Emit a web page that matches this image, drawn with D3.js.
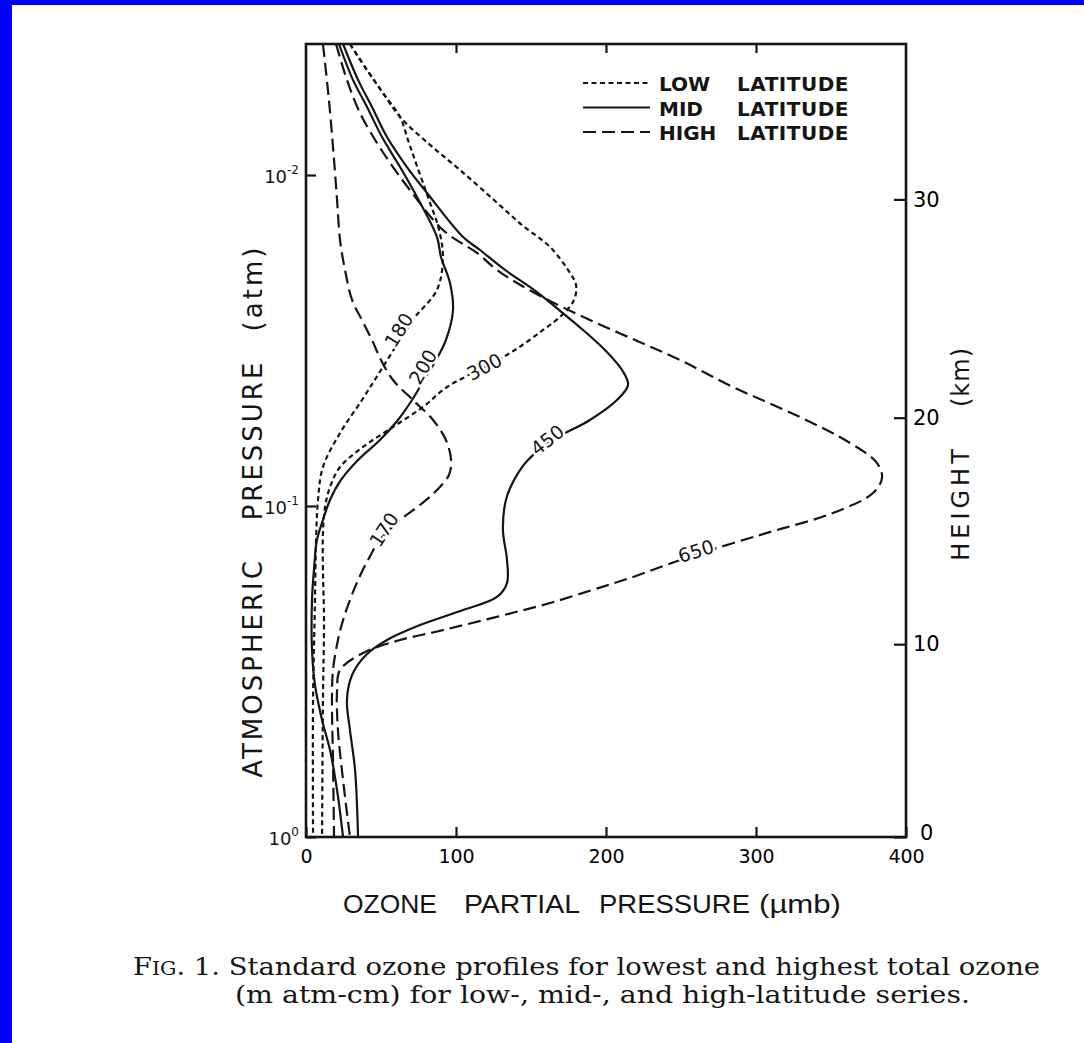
<!DOCTYPE html>
<html>
<head>
<meta charset="utf-8">
<script src="https://cdn.jsdelivr.net/npm/d3@7/dist/d3.min.js"></script>
<style>
  body { margin: 0; overflow: hidden; }
  svg { display: block; }
</style>
</head>
<body>
<svg id="chart" width="1084" height="1043" font-family="DejaVu Sans, sans-serif" fill="#151515"></svg>
<script>
// ozone partial pressure (umb) at pressure levels (atm)
const low180P = [0.00402, 0.00482, 0.00565, 0.00668, 0.00784, 0.0092, 0.01165, 0.01466, 0.01781, 0.02225, 0.02685, 0.03043, 0.03883, 0.04784, 0.06018, 0.07623, 0.0959, 0.1267, 0.1923, 0.3855, 1.0];
const low180O = [29.3, 40.7, 51.3, 62.7, 68.0, 73.3, 81.3, 88.7, 91.3, 87.3, 72.7, 64.7, 50.0, 37.3, 22.7, 11.3, 8.0, 6.7, 6.0, 4.7, 4.7];

const low300P = [0.00402, 0.00482, 0.00565, 0.00668, 0.00811, 0.00966, 0.0119, 0.01416, 0.0165, 0.01936, 0.02149, 0.02385, 0.02649, 0.02939, 0.03378, 0.03803, 0.04371, 0.05022, 0.05771, 0.06633, 0.07623, 0.08762, 0.1007, 0.1206, 0.1561, 0.2211, 0.3855, 1.0];
const low300O = [29.3, 40.7, 51.3, 62.7, 82.7, 102.7, 125.3, 144.0, 162.7, 174.7, 180.0, 178.7, 170.7, 158.0, 139.3, 119.3, 94.0, 78.0, 58.0, 38.0, 22.7, 16.0, 12.7, 11.3, 11.3, 12.0, 11.3, 10.7];

const mid200P = [0.00402, 0.00516, 0.00623, 0.00768, 0.00946, 0.01165, 0.01539, 0.01769, 0.0212, 0.02557, 0.03151, 0.03622, 0.04162, 0.04784, 0.05497, 0.06319, 0.07262, 0.08344, 0.0959, 0.1102, 0.1267, 0.1561, 0.1923, 0.2723, 0.3473, 0.4431, 0.5461, 0.7211, 1.0];
const mid200O = [22.0, 31.3, 40.7, 50.7, 62.7, 74.0, 87.3, 90.0, 96.0, 98.0, 93.3, 86.7, 78.7, 70.7, 61.3, 49.3, 34.7, 23.3, 16.0, 11.3, 7.3, 5.3, 4.0, 4.0, 6.0, 10.7, 16.0, 20.7, 24.7];

const mid450P = [0.00402, 0.00516, 0.00623, 0.00768, 0.00946, 0.01133, 0.01539, 0.01685, 0.01936, 0.02225, 0.02557, 0.02939, 0.03378, 0.03883, 0.0431, 0.04784, 0.05497, 0.06319, 0.07262, 0.08344, 0.0959, 0.1181, 0.1456, 0.1709, 0.1883, 0.2062, 0.2289, 0.254, 0.2819, 0.324, 0.3855, 0.475, 0.6274, 1.0];
const mid450O = [24.7, 34.7, 44.0, 54.0, 67.3, 80.7, 104.7, 116.0, 132.7, 152.0, 168.7, 184.7, 199.3, 210.7, 214.7, 207.3, 189.3, 164.7, 148.0, 138.7, 133.3, 131.3, 134.0, 134.0, 127.3, 104.7, 76.0, 54.0, 40.0, 30.7, 27.3, 29.3, 32.7, 34.7];

const high170P = [0.00402, 0.00594, 0.00901, 0.0119, 0.01572, 0.01936, 0.02385, 0.02742, 0.03151, 0.03622, 0.04162, 0.04784, 0.05497, 0.06319, 0.07262, 0.08058, 0.08947, 0.09931, 0.1102, 0.1267, 0.1456, 0.1674, 0.1923, 0.2211, 0.254, 0.3129, 0.3855, 0.5853, 1.0];
const high170O = [11.3, 15.3, 18.7, 20.7, 22.7, 26.0, 30.7, 37.3, 44.0, 50.0, 58.0, 71.3, 84.7, 93.3, 96.7, 95.3, 87.3, 76.0, 62.7, 49.3, 41.3, 34.7, 29.3, 24.7, 21.3, 18.0, 17.3, 18.0, 18.7];

const high650P = [0.00402, 0.00516, 0.0065, 0.008, 0.00946, 0.0111, 0.01466, 0.0172, 0.01936, 0.0212, 0.02385, 0.02742, 0.03151, 0.03622, 0.04371, 0.05385, 0.06451, 0.07418, 0.08228, 0.09136, 0.105, 0.1206, 0.1406, 0.165, 0.1794, 0.1964, 0.2105, 0.2257, 0.2402, 0.254, 0.278, 0.3129, 0.3597, 0.475, 0.6727, 1.0];
const high650O = [20.0, 27.3, 36.0, 47.3, 58.0, 69.3, 91.3, 114.0, 127.3, 140.7, 161.3, 189.3, 219.3, 249.3, 284.7, 329.3, 362.7, 380.7, 384.0, 378.0, 351.3, 307.3, 259.3, 216.0, 190.7, 162.7, 137.3, 110.7, 86.0, 62.7, 38.0, 22.7, 20.7, 21.3, 24.7, 29.3];

const ozoneTicks = [0, 100, 200, 300, 400];
const pressureTicks = [1, 0.1, 0.01];
const pressureExps = ["0", "-1", "-2"];
const heightTicks = [0, 10, 20, 30];
const heightPressures = [1, 0.2615, 0.0541, 0.01185];
const legendNames = ["LOW", "MID", "HIGH"];

const ink = "#151515";
const svg = d3.select("#chart");
svg.append("rect").attr("width", 1084).attr("height", 1043).attr("fill", "#0000ff");
svg.append("rect").attr("x", 12).attr("y", 5).attr("width", 1072).attr("height", 1038).attr("fill", "#fff");

const x = d3.scaleLinear().domain([0, 400]).range([306, 906]);
const y = d3.scaleLog().domain([1, 0.00402]).range([837, 44]);

const dashes = {low: "5,3.5", mid: null, high: "13,6"};

const series = [
  {band: "low", p: low180P, o: low180O},
  {band: "low", p: low300P, o: low300O},
  {band: "mid", p: mid200P, o: mid200O},
  {band: "mid", p: mid450P, o: mid450O},
  {band: "high", p: high170P, o: high170O},
  {band: "high", p: high650P, o: high650O}
];

const line = d3.line()
  .x(d => x(d[1]))
  .y(d => y(d[0]))
  .curve(d3.curveCatmullRom.alpha(0.5));

svg.append("g").selectAll("path")
  .data(series)
  .enter()
  .append("path")
  .attr("d", s => line(s.p.map((p, i) => [p, s.o[i]])))
  .attr("fill", "none")
  .attr("stroke", ink)
  .attr("stroke-width", 2.2)
  .attr("stroke-dasharray", s => dashes[s.band]);

// frame
svg.append("rect")
  .attr("x", x(0)).attr("y", y(0.00402))
  .attr("width", x(400) - x(0)).attr("height", y(1) - y(0.00402))
  .attr("fill", "none").attr("stroke", ink).attr("stroke-width", 2.6);

// bottom axis
const bottomAxis = svg.append("g")
  .attr("transform", `translate(0,${y(1)})`)
  .call(d3.axisBottom(x).tickValues(ozoneTicks).tickSize(-10).tickPadding(13).tickFormat(d3.format("d")));
bottomAxis.select(".domain").remove();
bottomAxis.selectAll("text").attr("font-size", 19).attr("font-family", "DejaVu Sans");

// top axis ticks
const topAxis = svg.append("g")
  .attr("transform", `translate(0,${y(0.00402)})`)
  .call(d3.axisTop(x).tickValues([100, 200, 300]).tickSize(-9).tickFormat(""));
topAxis.select(".domain").remove();

// left axis
const leftAxis = svg.append("g")
  .attr("transform", `translate(${x(0)},0)`)
  .call(d3.axisLeft(y).tickValues(pressureTicks).tickSize(-10).tickFormat(""));
leftAxis.select(".domain").remove();
leftAxis.selectAll(".tick").each(function(d, i) {
  const t = d3.select(this).append("text")
    .attr("x", -7).attr("y", 7)
    .attr("text-anchor", "end")
    .attr("font-size", 18)
    .attr("font-family", "DejaVu Sans")
    .attr("fill", ink);
  t.append("tspan").text("10");
  t.append("tspan").attr("dy", -9).attr("font-size", 12).text(pressureExps[i]);
});

// right axis (height)
const rightAxis = svg.append("g")
  .attr("transform", `translate(${x(400)},0)`)
  .call(d3.axisRight(y).tickValues(heightPressures).tickSize(-12).tickPadding(7)
    .tickFormat((d, i) => heightTicks[i]));
rightAxis.select(".domain").remove();
rightAxis.selectAll("text").attr("font-size", 21).attr("font-family", "DejaVu Sans");
rightAxis.selectAll(".tick text").filter((d, i) => i === 0).attr("x", 14).attr("y", -4);
svg.selectAll(".tick line").attr("stroke", ink).attr("stroke-width", 2.2);

// curve labels
const curveLabels = [
  {text: "180", o: 62, p: 0.0294, angle: -58},
  {text: "200", o: 78, p: 0.038, angle: -60},
  {text: "300", o: 119, p: 0.038, angle: -28},
  {text: "450", o: 161, p: 0.0632, angle: -38},
  {text: "170", o: 52, p: 0.118, angle: -57},
  {text: "650", o: 260, p: 0.137, angle: -17}
];
svg.selectAll("text.clabel")
  .data(curveLabels)
  .enter()
  .append("text")
  .attr("class", "clabel")
  .attr("transform", d => `translate(${x(d.o)},${y(d.p)}) rotate(${d.angle})`)
  .attr("text-anchor", "middle")
  .attr("dy", "0.35em")
  .attr("font-size", 19)
  .attr("stroke", "#fff").attr("stroke-width", 5).attr("paint-order", "stroke")
  .text(d => d.text);

// legend
const legend = svg.append("g");
legendNames.forEach((name, i) => {
  const ly = 83 + i * 24.5;
  legend.append("line")
    .attr("x1", 583).attr("x2", 650).attr("y1", ly).attr("y2", ly)
    .attr("stroke", ink).attr("stroke-width", 2.2)
    .attr("stroke-dasharray", dashes[name.toLowerCase()]);
  legend.append("text").attr("x", 659).attr("y", ly + 8)
    .attr("font-size", 20).attr("font-weight", "bold").text(name);
  legend.append("text").attr("x", 737).attr("y", ly + 8)
    .attr("font-size", 20).attr("font-weight", "bold").attr("letter-spacing", 0.5).text("LATITUDE");
});

// axis titles
const leftTitle = [["ATMOSPHERIC", 668], ["PRESSURE", 440], ["(atm)", 288]];
leftTitle.forEach(([t, cy]) => {
  svg.append("text")
    .attr("transform", `translate(253,${cy}) rotate(-90)`)
    .attr("text-anchor", "middle").attr("dy", "0.36em")
    .attr("font-size", 26).attr("letter-spacing", 3).text(t);
});
const rightTitle = [["HEIGHT", 503, 4], ["(km)", 377, 1]];
rightTitle.forEach(([t, cy, ls]) => {
  svg.append("text")
    .attr("transform", `translate(960,${cy}) rotate(-90)`)
    .attr("text-anchor", "middle").attr("dy", "0.36em")
    .attr("font-size", 24).attr("letter-spacing", ls).text(t);
});
const xTitle = [["OZONE", 343, 94], ["PARTIAL", 464, 116], ["PRESSURE", 599, 151], ["(\u00b5mb)", 759, 82]];
xTitle.forEach(([t, tx, len]) => {
  svg.append("text")
    .attr("x", tx).attr("y", 913)
    .attr("font-family", "Liberation Sans Narrow, Liberation Sans, Arial, sans-serif")
    .attr("font-size", 26)
    .attr("textLength", len).attr("lengthAdjust", "spacingAndGlyphs")
    .text(t);
});

// caption
const cap1 = svg.append("text").attr("x", 133).attr("y", 975)
  .attr("font-family", "DejaVu Serif, serif").attr("font-size", 24)
  .attr("textLength", 907).attr("lengthAdjust", "spacingAndGlyphs");
cap1.append("tspan").text("F");
cap1.append("tspan").attr("font-size", 18).text("IG");
cap1.append("tspan").text(". 1. Standard ozone profiles for lowest and highest total ozone");
svg.append("text").attr("x", 235).attr("y", 1003)
  .attr("font-family", "DejaVu Serif, serif").attr("font-size", 24)
  .attr("textLength", 735).attr("lengthAdjust", "spacingAndGlyphs")
  .text("(m atm-cm) for low-, mid-, and high-latitude series.");
</script>
</body>
</html>
